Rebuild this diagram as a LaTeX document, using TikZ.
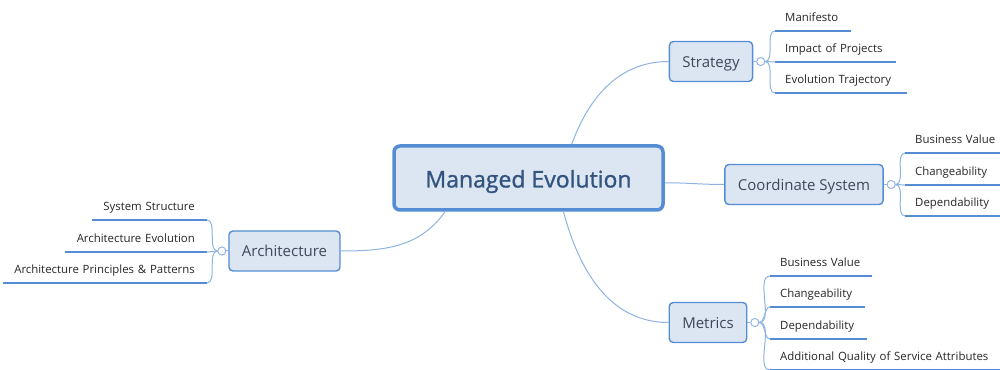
\documentclass[tikz,border=0pt]{standalone}
\usepackage{fontspec}
\setmainfont{Open Sans}
\newfontfamily\hubfont[FakeBold=1.2]{Open Sans}
\usetikzlibrary{
  calc,
  positioning,
}
\definecolor{mapblue}{RGB}{84,141,212}
\definecolor{twigblue}{RGB}{141,179,226}
\definecolor{boxfill}{RGB}{220,230,242}
\definecolor{hubtext}{RGB}{52,84,128}
\definecolor{branchtext}{RGB}{62,72,90}
\definecolor{leaftext}{RGB}{38,38,38}

\tikzstyle{twig} = [twigblue, line width=1pt]
\tikzstyle{stem} = [mapblue, line width=2.7pt]

\begin{document}
\begin{tikzpicture}[x=1pt, y=1pt,
    hub/.style={draw=mapblue, line width=3.5pt, fill=boxfill, rounded corners=6pt,
                minimum width=269pt, minimum height=64pt, text height=19pt, text depth=0pt,
                font=\hubfont\fontsize{23}{27}\selectfont, text=hubtext},
    branch/.style={draw=mapblue, line width=1.4pt, fill=boxfill, rounded corners=4pt,
                   inner xsep=13pt, minimum height=40pt, text height=12pt, text depth=0pt,
                   font=\fontsize{15}{18}\selectfont, text=branchtext},
    knob/.style={circle, draw=twigblue, line width=0.8pt, fill=white,
                 minimum size=8pt, inner sep=0pt},
    leaf/.style={text width=#1, align=left, anchor=south west, inner xsep=0pt,
                 inner ysep=5pt, font=\fontsize{11.4}{13}\selectfont, text=leaftext,
                 execute at begin node=\strut},
    rleaf/.style={leaf=#1, align=right, anchor=south east}]
      \useasboundingbox (0,0) rectangle (1000,369);

      \node [hub] (me) at (528.5,191) {Managed Evolution};

      \node [branch] (strat) at (711,307.5) {Strategy};
      \node [branch] (coord) at (804,184.5) {Coordinate System};
      \node [branch] (metr) at (708,46.5) {Metrics};
      \node [branch] (arch) at (284.5,118) {Architecture};

      \node [knob, right=3pt of strat] (sk) {};
      \node [knob, right=3pt of coord] (ck) {};
      \node [knob, right=3pt of metr] (mk) {};
      \node [knob, left=2pt of arch] (ak) {};

      % leaves
      \node [leaf=66pt] (s1) at (785,338) {Manifesto};
      \node [leaf=111pt] (s2) at (785,307) {Impact of Projects};
      \node [leaf=122pt] (s3) at (785,276) {Evolution Trajectory};

      \node [leaf=85pt] (c1) at (915,216) {Business Value};
      \node [leaf=85pt] (c2) at (915,184) {Changeability};
      \node [leaf=85pt] (c3) at (915,153) {Dependability};

      \node [leaf=92pt] (m1) at (780,93) {Business Value};
      \node [leaf=85pt] (m2) at (780,62) {Changeability};
      \node [leaf=87pt] (m3) at (780,30) {Dependability};
      \node [leaf=220pt] (m4) at (780,-1) {Additional Quality of Service Attributes};

      \node [rleaf=103pt] (a1) at (195,149) {System Structure};
      \node [rleaf=130pt] (a2) at (195,117) {Architecture Evolution};
      \node [rleaf=192pt] (a3) at (195,86) {Architecture Principles \& Patterns};

      % main branches
      \draw [twig] (me.38) to[out=70, in=180] (strat.west);
      \draw [twig] (me.-2) to[out=0, in=180] (coord.west);
      \draw [twig] (me.-44) to[out=-75, in=180] (metr.west);
      \draw [twig] (me.202) to[out=235, in=0] (arch.east);

      \draw [twig] (strat) -- (sk);
      \draw [twig] (coord) -- (ck);
      \draw [twig] (metr) -- (mk);
      \draw [twig] (arch) -- (ak);

      % twigs and underlines
      \foreach \n in {s1,s2,s3}
        \draw [twig] (sk.east) to[out=0, in=180, looseness=0.8] ($(\n.south west)+(-10,0)$);
      \foreach \n in {c1,c2,c3}
        \draw [twig] (ck.east) to[out=0, in=180, looseness=0.8] ($(\n.south west)+(-10,0)$);
      \foreach \n in {m1,m2,m3,m4}
        \draw [twig] (mk.east) to[out=0, in=180, looseness=0.8] ($(\n.south west)+(-10,0)$);
      \foreach \n in {a1,a2,a3}
        \draw [twig] (ak.west) to[out=180, in=0, looseness=0.8] ($(\n.south east)+(12,0)$);

      \foreach \n in {s1,s2,s3,c1,c2,c3,m1,m2,m3,m4}
        \draw [stem] ($(\n.south west)+(-10,0)$) -- (\n.south east);
      \foreach \n in {a1,a2,a3}
        \draw [stem] (\n.south west) -- ($(\n.south east)+(12,0)$);

      % redraw knobs above the twigs
      \foreach \n in {sk,ck,mk,ak}
        \node [knob] at (\n) {};
    \end{tikzpicture}
\end{document}
